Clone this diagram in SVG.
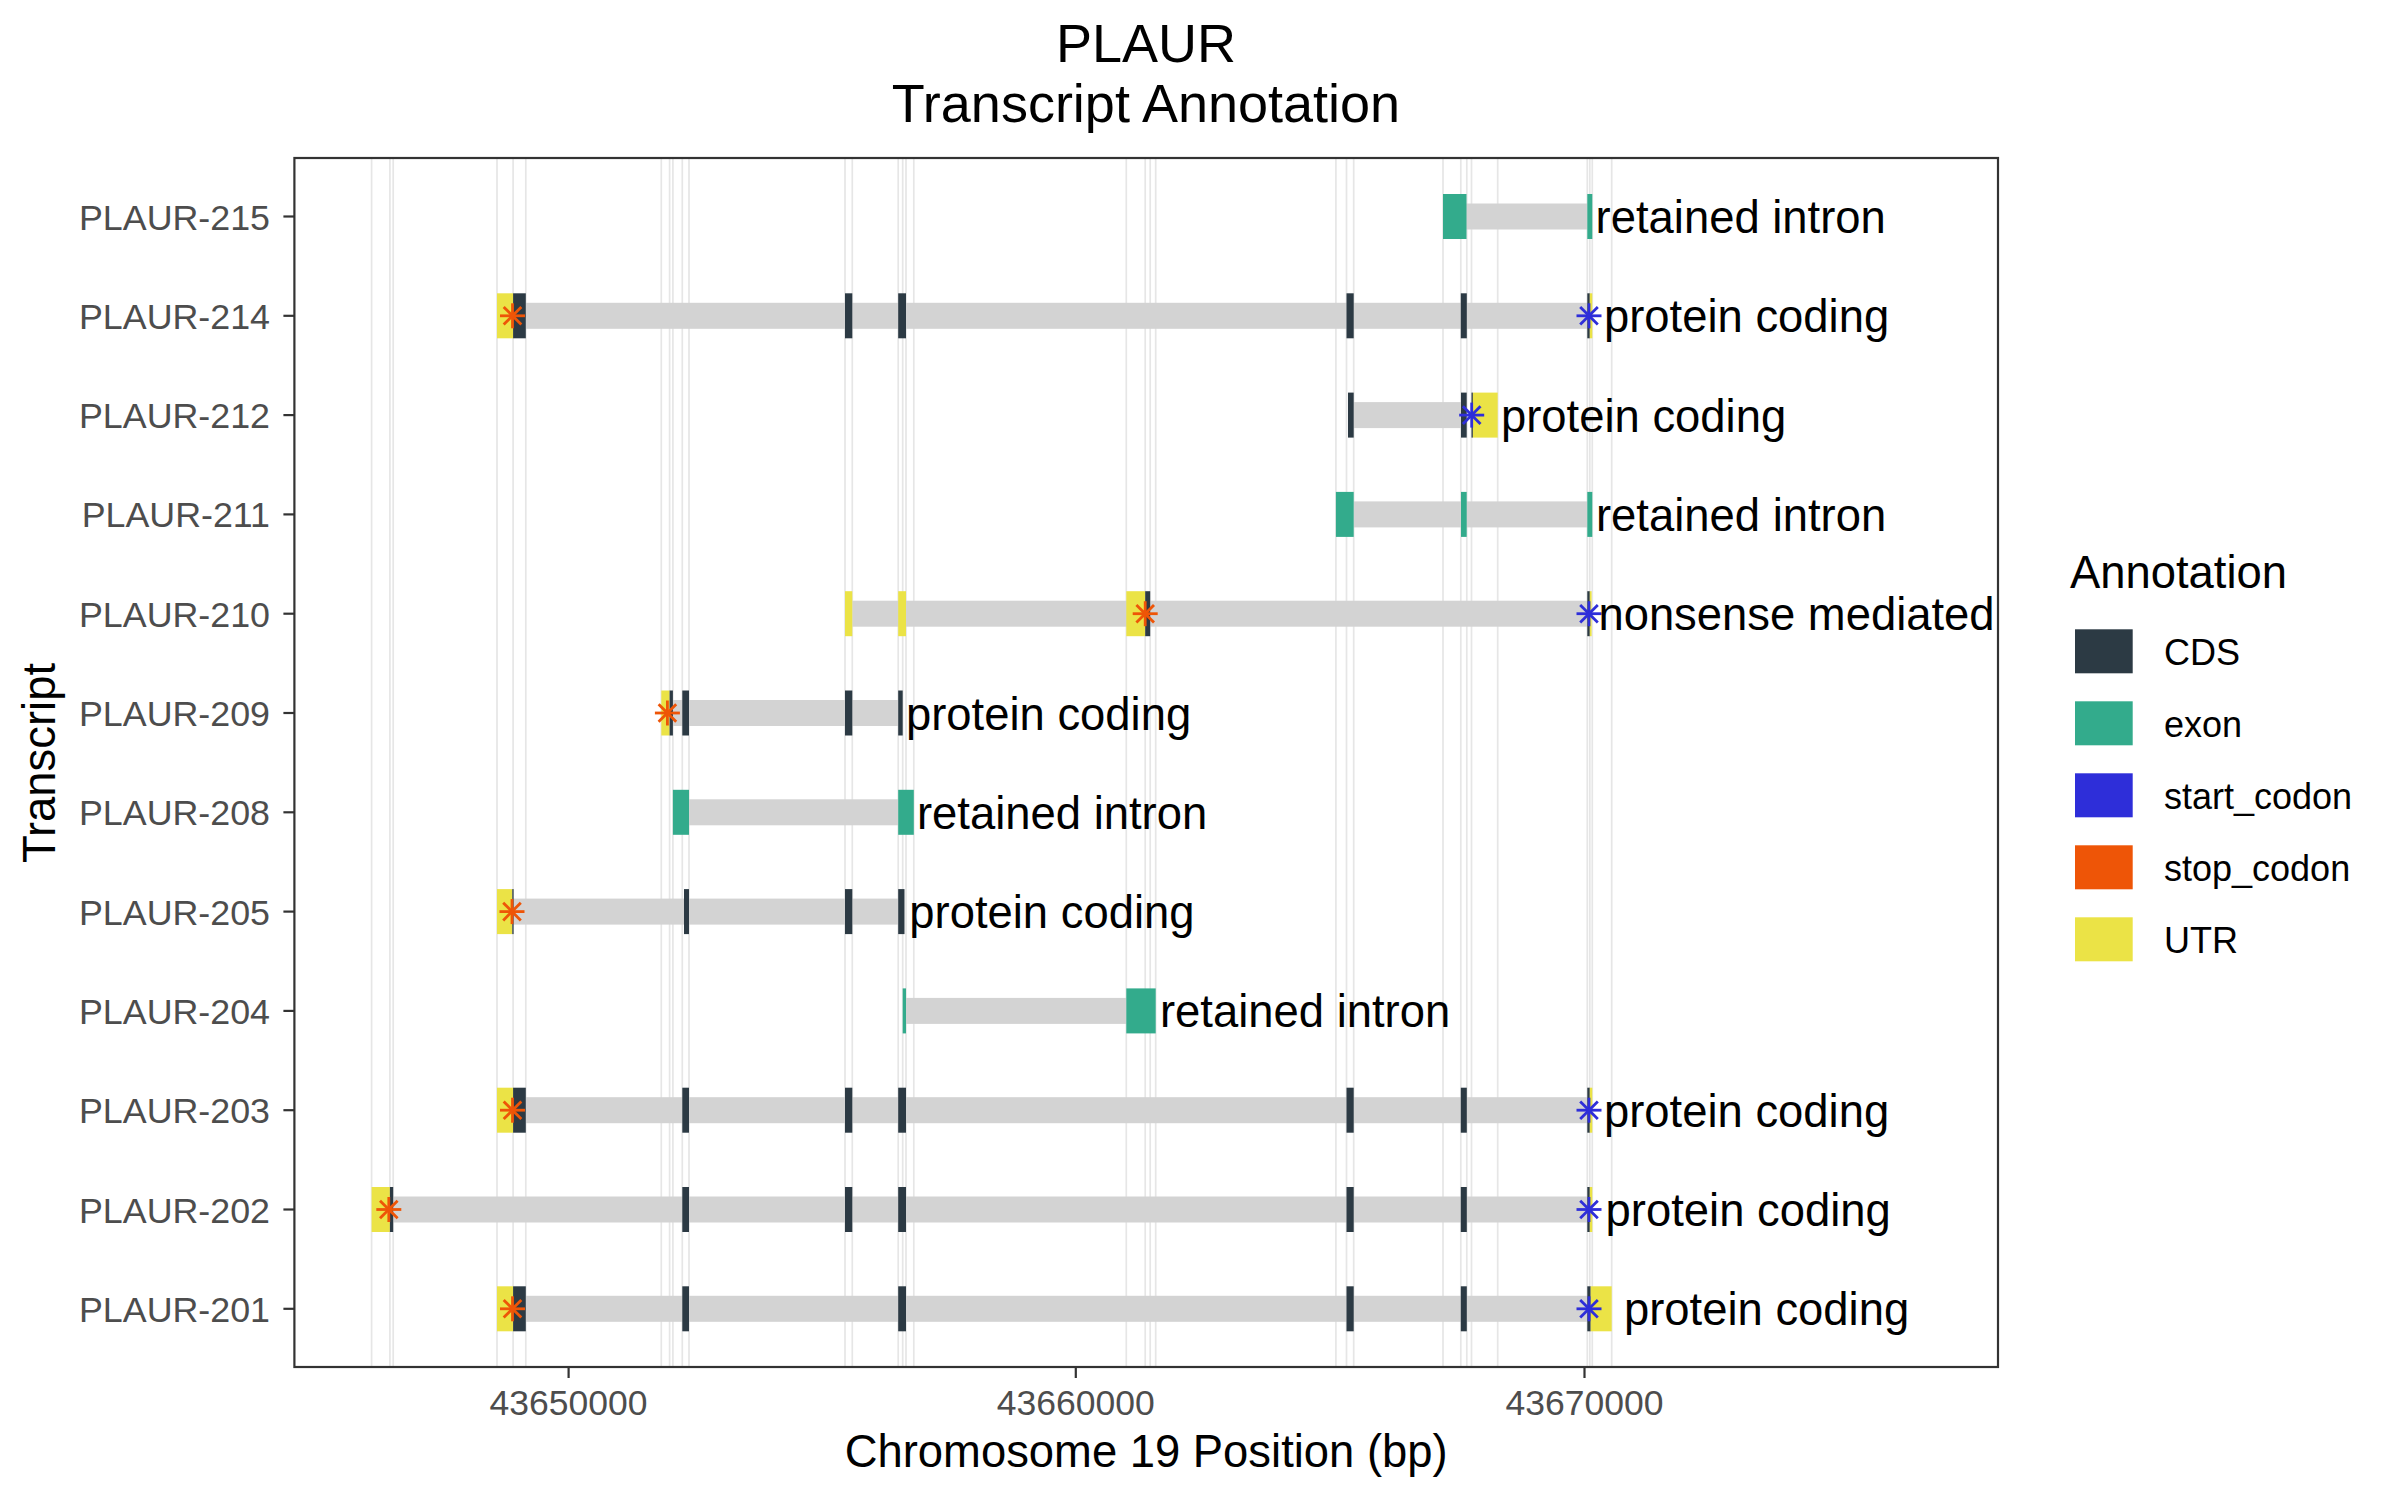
<svg xmlns="http://www.w3.org/2000/svg" xmlns:xlink="http://www.w3.org/1999/xlink" width="2400" height="1500" viewBox="0 0 2400 1500">
<style>
text{font-family:"Liberation Sans",Arial,Helvetica,sans-serif}
.cds{fill:#2C3A44}
.exon{fill:#33AB8C}
.utr{fill:#EBE346}
.intron{fill:#D3D3D3}
.grid line{stroke:#E6E6E6;stroke-width:1.7}
.start{stroke:#2E2ED9}
.stop{stroke:#EE5507}
.lab{font-size:45.4px;fill:#000}
.ylab{font-size:35.8px;fill:#4D4D4D;text-anchor:end}
.xlab{font-size:35.5px;fill:#4D4D4D;text-anchor:middle}
.tick{stroke:#333333;stroke-width:2.2}
.title{font-size:54px;fill:#000;text-anchor:middle}
.axtitle{font-size:45.4px;fill:#000;text-anchor:middle}
.legtxt{font-size:36px;fill:#000}
</style>
<defs>
<g id="ast" stroke-width="2.8" fill="none">
<line x1="0" y1="-12.5" x2="0" y2="12.5"/>
<line x1="-12.5" y1="0" x2="12.5" y2="0"/>
<line x1="-8.8" y1="-8.8" x2="8.8" y2="8.8"/>
<line x1="-8.8" y1="8.8" x2="8.8" y2="-8.8"/>
</g>
</defs>
<rect x="0" y="0" width="2400" height="1500" fill="#FFFFFF"/>

<g id="title">
<text class="title" x="1146" y="62">PLAUR</text>
<text class="title" x="1146" y="122">Transcript Annotation</text>
</g>

<g id="gridlines" class="grid">
<line x1="371.6" y1="158" x2="371.6" y2="1367"/>
<line x1="389.9" y1="158" x2="389.9" y2="1367"/>
<line x1="393.2" y1="158" x2="393.2" y2="1367"/>
<line x1="497" y1="158" x2="497" y2="1367"/>
<line x1="513.1" y1="158" x2="513.1" y2="1367"/>
<line x1="525.8" y1="158" x2="525.8" y2="1367"/>
<line x1="661.3" y1="158" x2="661.3" y2="1367"/>
<line x1="669.6" y1="158" x2="669.6" y2="1367"/>
<line x1="672.9" y1="158" x2="672.9" y2="1367"/>
<line x1="682.3" y1="158" x2="682.3" y2="1367"/>
<line x1="689" y1="158" x2="689" y2="1367"/>
<line x1="845" y1="158" x2="845" y2="1367"/>
<line x1="852.3" y1="158" x2="852.3" y2="1367"/>
<line x1="898.2" y1="158" x2="898.2" y2="1367"/>
<line x1="902.7" y1="158" x2="902.7" y2="1367"/>
<line x1="906" y1="158" x2="906" y2="1367"/>
<line x1="913.8" y1="158" x2="913.8" y2="1367"/>
<line x1="1126.3" y1="158" x2="1126.3" y2="1367"/>
<line x1="1145.2" y1="158" x2="1145.2" y2="1367"/>
<line x1="1150.2" y1="158" x2="1150.2" y2="1367"/>
<line x1="1155.7" y1="158" x2="1155.7" y2="1367"/>
<line x1="1335.9" y1="158" x2="1335.9" y2="1367"/>
<line x1="1346.5" y1="158" x2="1346.5" y2="1367"/>
<line x1="1353.7" y1="158" x2="1353.7" y2="1367"/>
<line x1="1443" y1="158" x2="1443" y2="1367"/>
<line x1="1460.8" y1="158" x2="1460.8" y2="1367"/>
<line x1="1466.8" y1="158" x2="1466.8" y2="1367"/>
<line x1="1471.5" y1="158" x2="1471.5" y2="1367"/>
<line x1="1497.7" y1="158" x2="1497.7" y2="1367"/>
<line x1="1587.3" y1="158" x2="1587.3" y2="1367"/>
<line x1="1589.8" y1="158" x2="1589.8" y2="1367"/>
<line x1="1592.3" y1="158" x2="1592.3" y2="1367"/>
<line x1="1611.7" y1="158" x2="1611.7" y2="1367"/>
</g>

<g id="PLAUR-215" transform="translate(0,216.5)">
<rect class="intron" x="1466" y="-13" width="121.3" height="26"/>
<rect class="exon" x="1443" y="-22.5" width="23.5" height="45"/>
<rect class="exon" x="1587.3" y="-22.5" width="5" height="45"/>
<text class="lab" x="1595.6" y="16.5">retained intron</text>
</g>

<g id="PLAUR-214" transform="translate(0,315.8)">
<rect class="intron" x="525.8" y="-13" width="1061.5" height="26"/>
<rect class="utr" x="497" y="-22.5" width="16.1" height="45"/>
<rect class="cds" x="513.1" y="-22.5" width="12.7" height="45"/>
<rect class="cds" x="845" y="-22.5" width="7.3" height="45"/>
<rect class="cds" x="898.2" y="-22.5" width="7.8" height="45"/>
<rect class="cds" x="1346.5" y="-22.5" width="7.2" height="45"/>
<rect class="cds" x="1460.8" y="-22.5" width="6" height="45"/>
<rect class="cds" x="1587.3" y="-22.5" width="2.5" height="45"/>
<rect class="utr" x="1589.8" y="-22.5" width="2.5" height="45"/>
<use xlink:href="#ast" class="stop" x="512.5" y="0"/>
<use xlink:href="#ast" class="start" x="1589" y="0"/>
<text class="lab" x="1604" y="16.5">protein coding</text>
</g>

<g id="PLAUR-212" transform="translate(0,415.1)">
<rect class="intron" x="1353.7" y="-13" width="107.3" height="26"/>
<rect class="cds" x="1348" y="-22.5" width="5.7" height="45"/>
<rect class="cds" x="1461" y="-22.5" width="5.7" height="45"/>
<rect class="cds" x="1471.5" y="-22.5" width="1.4" height="45"/>
<rect class="utr" x="1472.9" y="-22.5" width="24.8" height="45"/>
<use xlink:href="#ast" class="start" x="1471.7" y="0"/>
<text class="lab" x="1501" y="16.5">protein coding</text>
</g>

<g id="PLAUR-211" transform="translate(0,514.4)">
<rect class="intron" x="1353.7" y="-13" width="233.6" height="26"/>
<rect class="exon" x="1335.9" y="-22.5" width="17.8" height="45"/>
<rect class="exon" x="1461" y="-22.5" width="5.7" height="45"/>
<rect class="exon" x="1587.3" y="-22.5" width="5" height="45"/>
<text class="lab" x="1596" y="16.5">retained intron</text>
</g>

<g id="PLAUR-210" transform="translate(0,613.7)">
<rect class="intron" x="852.3" y="-13" width="735" height="26"/>
<rect class="utr" x="845" y="-22.5" width="7.3" height="45"/>
<rect class="utr" x="898.2" y="-22.5" width="7.8" height="45"/>
<rect class="utr" x="1126.3" y="-22.5" width="18.9" height="45"/>
<rect class="cds" x="1145.2" y="-22.5" width="5" height="45"/>
<rect class="cds" x="1587.3" y="-22.5" width="2.5" height="45"/>
<rect class="utr" x="1589.8" y="-22.5" width="1.8" height="45"/>
<use xlink:href="#ast" class="stop" x="1145.2" y="0"/>
<use xlink:href="#ast" class="start" x="1589" y="0"/>
<text class="lab" x="1598.4" y="16.5">nonsense mediated</text>
</g>

<g id="PLAUR-209" transform="translate(0,713)">
<rect class="intron" x="669.6" y="-13" width="228.6" height="26"/>
<rect class="utr" x="661.3" y="-22.5" width="8.3" height="45"/>
<rect class="cds" x="669.6" y="-22.5" width="3.3" height="45"/>
<rect class="cds" x="682.3" y="-22.5" width="6.7" height="45"/>
<rect class="cds" x="845" y="-22.5" width="7.3" height="45"/>
<rect class="cds" x="898.2" y="-22.5" width="4.5" height="45"/>
<use xlink:href="#ast" class="stop" x="667.4" y="0"/>
<text class="lab" x="906" y="16.5">protein coding</text>
</g>

<g id="PLAUR-208" transform="translate(0,812.3)">
<rect class="intron" x="689" y="-13" width="209.2" height="26"/>
<rect class="exon" x="672.9" y="-22.5" width="16.1" height="45"/>
<rect class="exon" x="898.2" y="-22.5" width="15.6" height="45"/>
<text class="lab" x="917" y="16.5">retained intron</text>
</g>

<g id="PLAUR-205" transform="translate(0,911.6)">
<rect class="intron" x="513.1" y="-13" width="385.1" height="26"/>
<rect class="utr" x="497" y="-22.5" width="15.3" height="45"/>
<rect class="cds" x="512.3" y="-22.5" width="1.3" height="45"/>
<rect class="cds" x="684" y="-22.5" width="5" height="45"/>
<rect class="cds" x="845" y="-22.5" width="7.3" height="45"/>
<rect class="cds" x="898.2" y="-22.5" width="6.3" height="45"/>
<use xlink:href="#ast" class="stop" x="512" y="0"/>
<text class="lab" x="909.3" y="16.5">protein coding</text>
</g>

<g id="PLAUR-204" transform="translate(0,1010.9)">
<rect class="intron" x="906" y="-13" width="220.3" height="26"/>
<rect class="exon" x="902.7" y="-22.5" width="3.3" height="45"/>
<rect class="exon" x="1126.3" y="-22.5" width="29.4" height="45"/>
<text class="lab" x="1160" y="16.5">retained intron</text>
</g>

<g id="PLAUR-203" transform="translate(0,1110.2)">
<rect class="intron" x="525.8" y="-13" width="1061.5" height="26"/>
<rect class="utr" x="497" y="-22.5" width="16.1" height="45"/>
<rect class="cds" x="513.1" y="-22.5" width="12.7" height="45"/>
<rect class="cds" x="682.3" y="-22.5" width="6.7" height="45"/>
<rect class="cds" x="845" y="-22.5" width="7.3" height="45"/>
<rect class="cds" x="898.2" y="-22.5" width="7.8" height="45"/>
<rect class="cds" x="1346.5" y="-22.5" width="7.2" height="45"/>
<rect class="cds" x="1460.8" y="-22.5" width="6" height="45"/>
<rect class="cds" x="1587.3" y="-22.5" width="2.5" height="45"/>
<rect class="utr" x="1589.8" y="-22.5" width="2.5" height="45"/>
<use xlink:href="#ast" class="stop" x="512.5" y="0"/>
<use xlink:href="#ast" class="start" x="1589" y="0"/>
<text class="lab" x="1604" y="16.5">protein coding</text>
</g>

<g id="PLAUR-202" transform="translate(0,1209.5)">
<rect class="intron" x="393.2" y="-13" width="1194.1" height="26"/>
<rect class="utr" x="371.6" y="-22.5" width="18.3" height="45"/>
<rect class="cds" x="389.9" y="-22.5" width="3.3" height="45"/>
<rect class="cds" x="682.3" y="-22.5" width="6.7" height="45"/>
<rect class="cds" x="845" y="-22.5" width="7.3" height="45"/>
<rect class="cds" x="898.2" y="-22.5" width="7.8" height="45"/>
<rect class="cds" x="1346.5" y="-22.5" width="7.2" height="45"/>
<rect class="cds" x="1460.8" y="-22.5" width="6" height="45"/>
<rect class="cds" x="1587.3" y="-22.5" width="2.5" height="45"/>
<rect class="utr" x="1589.8" y="-22.5" width="2.5" height="45"/>
<use xlink:href="#ast" class="stop" x="388.8" y="0"/>
<use xlink:href="#ast" class="start" x="1589" y="0"/>
<text class="lab" x="1605.6" y="16.5">protein coding</text>
</g>

<g id="PLAUR-201" transform="translate(0,1308.8)">
<rect class="intron" x="525.8" y="-13" width="1061.5" height="26"/>
<rect class="utr" x="497" y="-22.5" width="16.1" height="45"/>
<rect class="cds" x="513.1" y="-22.5" width="12.7" height="45"/>
<rect class="cds" x="682.3" y="-22.5" width="6.7" height="45"/>
<rect class="cds" x="898.2" y="-22.5" width="7.8" height="45"/>
<rect class="cds" x="1346.5" y="-22.5" width="7.2" height="45"/>
<rect class="cds" x="1460.8" y="-22.5" width="6" height="45"/>
<rect class="cds" x="1587.3" y="-22.5" width="3.4" height="45"/>
<rect class="utr" x="1590.7" y="-22.5" width="21" height="45"/>
<use xlink:href="#ast" class="stop" x="512.5" y="0"/>
<use xlink:href="#ast" class="start" x="1589" y="0"/>
<text class="lab" x="1624" y="16.5">protein coding</text>
</g>

<g id="panel-border">
<rect x="294.4" y="158" width="1703.6" height="1209" fill="none" stroke="#333333" stroke-width="2.2"/>
</g>

<g id="y-axis">
<line class="tick" x1="283.4" y1="216.5" x2="294.4" y2="216.5"/>
<line class="tick" x1="283.4" y1="315.8" x2="294.4" y2="315.8"/>
<line class="tick" x1="283.4" y1="415.1" x2="294.4" y2="415.1"/>
<line class="tick" x1="283.4" y1="514.4" x2="294.4" y2="514.4"/>
<line class="tick" x1="283.4" y1="613.7" x2="294.4" y2="613.7"/>
<line class="tick" x1="283.4" y1="713" x2="294.4" y2="713"/>
<line class="tick" x1="283.4" y1="812.3" x2="294.4" y2="812.3"/>
<line class="tick" x1="283.4" y1="911.6" x2="294.4" y2="911.6"/>
<line class="tick" x1="283.4" y1="1010.9" x2="294.4" y2="1010.9"/>
<line class="tick" x1="283.4" y1="1110.2" x2="294.4" y2="1110.2"/>
<line class="tick" x1="283.4" y1="1209.5" x2="294.4" y2="1209.5"/>
<line class="tick" x1="283.4" y1="1308.8" x2="294.4" y2="1308.8"/>
<text class="ylab" x="270" y="229.5">PLAUR-215</text>
<text class="ylab" x="270" y="328.8">PLAUR-214</text>
<text class="ylab" x="270" y="428.1">PLAUR-212</text>
<text class="ylab" x="270" y="527.4">PLAUR-211</text>
<text class="ylab" x="270" y="626.7">PLAUR-210</text>
<text class="ylab" x="270" y="726">PLAUR-209</text>
<text class="ylab" x="270" y="825.3">PLAUR-208</text>
<text class="ylab" x="270" y="924.6">PLAUR-205</text>
<text class="ylab" x="270" y="1023.9">PLAUR-204</text>
<text class="ylab" x="270" y="1123.2">PLAUR-203</text>
<text class="ylab" x="270" y="1222.5">PLAUR-202</text>
<text class="ylab" x="270" y="1321.8">PLAUR-201</text>
<text class="axtitle" transform="translate(55,763) rotate(-90)" x="0" y="0">Transcript</text>
</g>

<g id="x-axis">
<line class="tick" x1="568.6" y1="1367" x2="568.6" y2="1378"/>
<line class="tick" x1="1075.8" y1="1367" x2="1075.8" y2="1378"/>
<line class="tick" x1="1584.5" y1="1367" x2="1584.5" y2="1378"/>
<text class="xlab" x="568.6" y="1415">43650000</text>
<text class="xlab" x="1075.8" y="1415">43660000</text>
<text class="xlab" x="1584.5" y="1415">43670000</text>
<text class="axtitle" x="1146.2" y="1467">Chromosome 19 Position (bp)</text>
</g>

<g id="legend">
<text x="2070" y="588" style="font-size:45.4px;fill:#000">Annotation</text>
<rect class="cds" x="2075" y="629.3" width="57.7" height="44"/>
<rect class="exon" x="2075" y="701.3" width="57.7" height="44"/>
<rect x="2075" y="773.3" width="57.7" height="44" fill="#2E2ED9"/>
<rect x="2075" y="845.3" width="57.7" height="44" fill="#EE5507"/>
<rect class="utr" x="2075" y="917.3" width="57.7" height="44"/>
<text class="legtxt" x="2164" y="664.5">CDS</text>
<text class="legtxt" x="2164" y="736.5">exon</text>
<text class="legtxt" x="2164" y="808.5">start_codon</text>
<text class="legtxt" x="2164" y="880.5">stop_codon</text>
<text class="legtxt" x="2164" y="952.5">UTR</text>
</g>
</svg>
